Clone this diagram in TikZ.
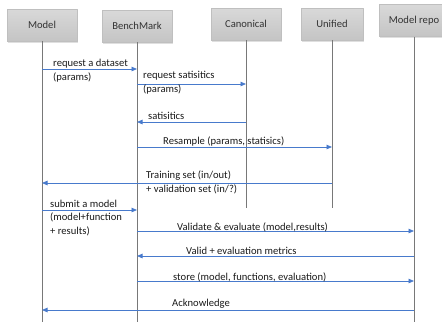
\documentclass[tikz,border=0pt]{standalone}
\usepackage{fontspec}
\setmainfont{Carlito}
\usetikzlibrary{arrows.meta,shadows}
\definecolor{msgblue}{RGB}{72,122,204}
\definecolor{lifegray}{RGB}{120,120,120}
\begin{document}
\begin{tikzpicture}[x=1pt, y=-1pt, font=\fontsize{10.6}{13.8}\selectfont, line join=round,
	actor/.style={minimum width=70pt, minimum height=32pt, inner sep=2pt, text=black!80,
		top color=gray!30, bottom color=gray!46, draw=gray!50, line width=0.3pt,
		drop shadow={shadow xshift=1pt, shadow yshift=-1.5pt, opacity=0.25}},
	life/.style={draw=lifegray, line width=0.8pt},
	msg/.style={draw=msgblue, line width=0.8pt, -{Triangle[length=5.5pt,width=4.5pt]}},
	lbl/.style={anchor=west, align=left, inner sep=0pt, text=black!90}]
		\useasboundingbox (0,0) rectangle (442,322);
		% participants
		\node[actor] (model) at (42,25) {Model};
		\node[actor] (bench) at (137,26) {BenchMark};
		\node[actor] (canon) at (246,24) {Canonical};
		\node[actor, minimum width=62pt] (unified) at (332,24) {Unified};
		\node[actor] (repo) at (414,20.5) {Model repo};
		% lifelines
		\path (model |- 0,322) coordinate (modelend)
			(bench |- 0,322) coordinate (benchend)
			(canon |- 0,208) coordinate (canonend)
			(unified |- 0,208) coordinate (unifiedend)
			(repo |- 0,322) coordinate (repoend);
		\foreach \p in {model,bench,canon,unified,repo} \draw[life] (\p.south)--(\p end);
		% messages
		\foreach \a/\b/\y in {model/bench/69, bench/canon/84, canon/bench/122, bench/unified/147,
			unified/model/183, model/bench/210, bench/repo/231, repo/bench/256, bench/repo/281, repo/model/310}
			\draw[msg] (\a |- 0,\y)--(\b |- 0,\y);
		\draw 	(53,70.5) node[lbl] {request a dataset\\(params)}
		(143,83) node[lbl] {request satisitics\\(params)}
		(148,116) node[lbl] {satisitics}
		(163,141) node[lbl] {Resample (params, statisics)}
		(146,182) node[lbl] {Training set (in/out)\\+ validation set (in/?)}
		(50,218) node[lbl] {submit a model\\(model+function\\+ results)}
		(177,227) node[lbl] {Validate \& evaluate (model,results)}
		(186,251) node[lbl] {Valid + evaluation metrics}
		(173,277) node[lbl] {store (model, functions, evaluation)}
		(172,304) node[lbl] {Acknowledge};
	\end{tikzpicture}
\end{document}
